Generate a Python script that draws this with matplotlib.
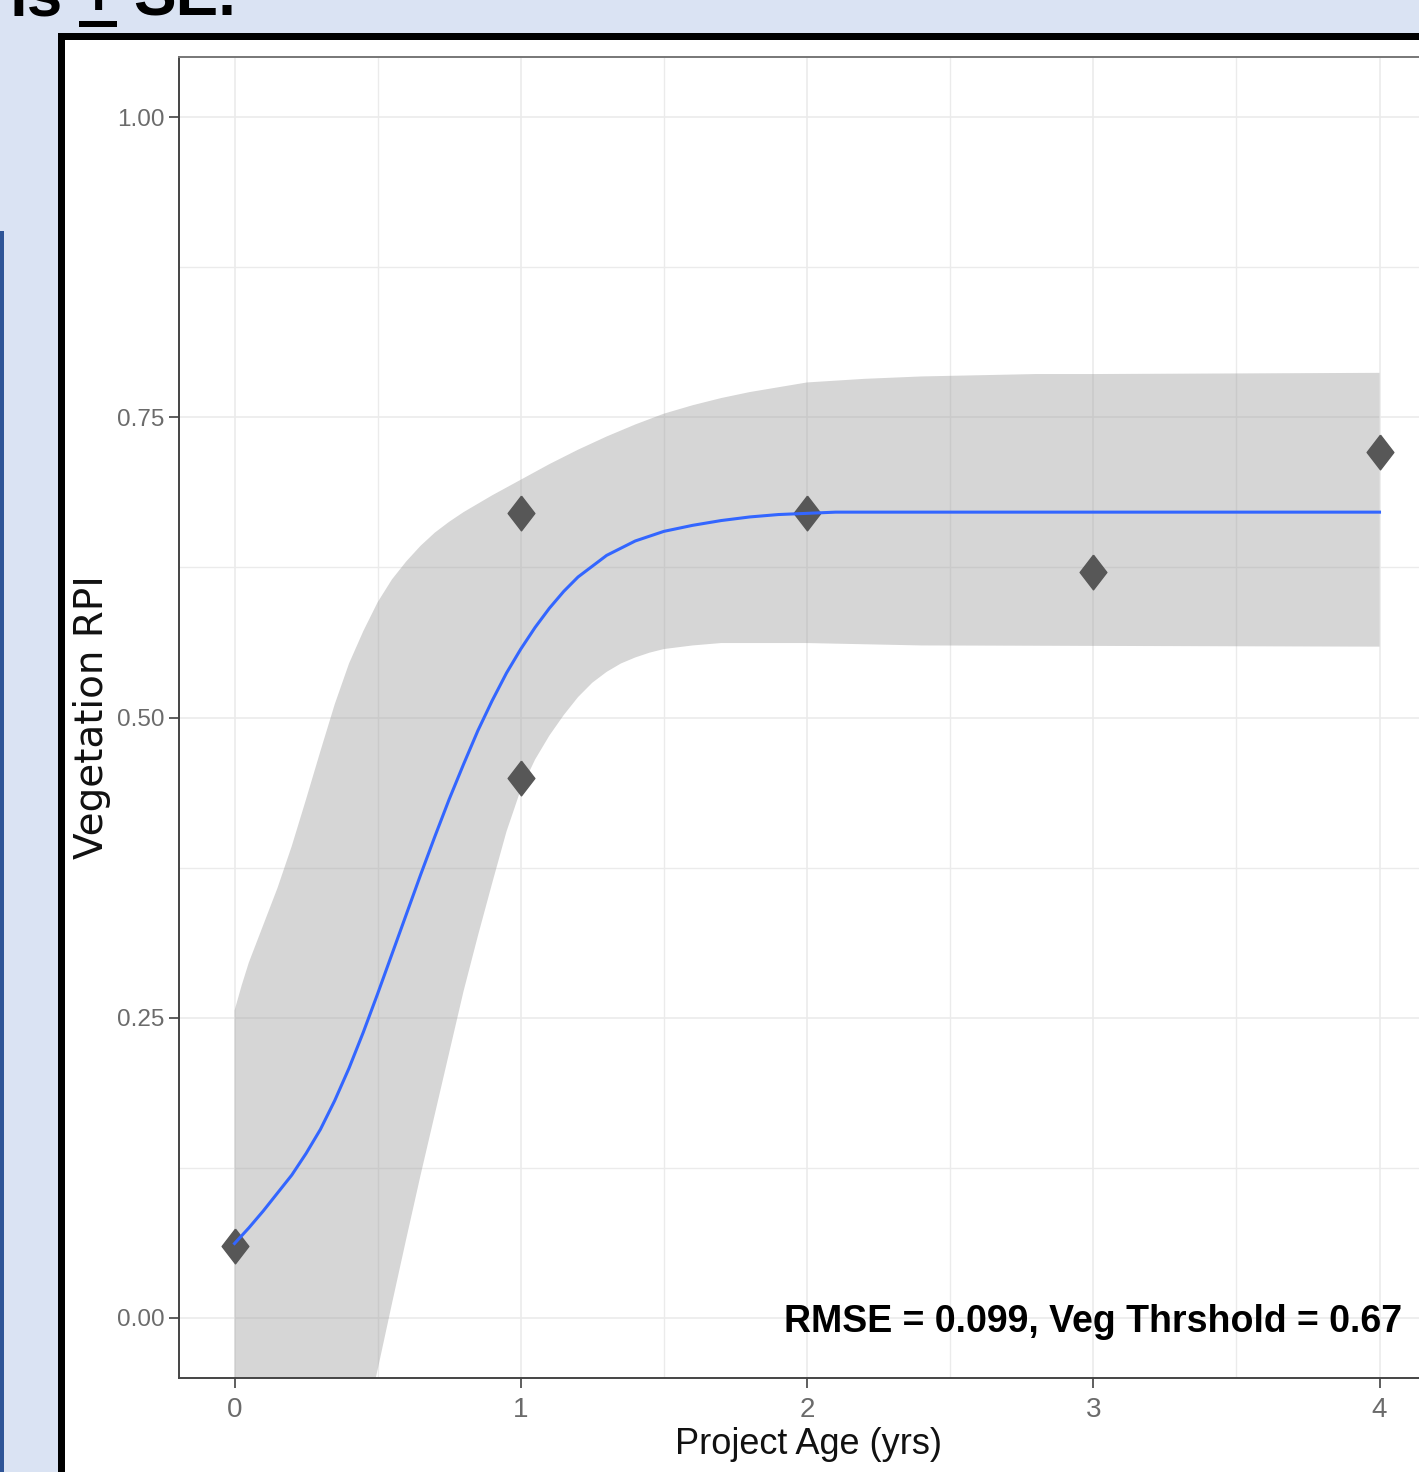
import matplotlib
matplotlib.use("Agg")
import matplotlib.pyplot as plt
from matplotlib.patches import Rectangle
from matplotlib.lines import Line2D
import numpy as np

# ---------------- data ----------------
age_pts = [0, 1, 1, 2, 3, 4]
rpi_pts = [0.060, 0.670, 0.450, 0.670, 0.621, 0.721]

fit_x = [0, 0.05, 0.1, 0.15, 0.2, 0.25, 0.3, 0.35, 0.4, 0.45, 0.5, 0.55, 0.6,
         0.65, 0.7, 0.75, 0.8, 0.85, 0.9, 0.95, 1.0, 1.05, 1.1, 1.15, 1.2, 1.3,
         1.4, 1.5, 1.6, 1.7, 1.8, 1.9, 2.0, 2.1, 2.2, 4.0]
fit_y = [0.062, 0.075, 0.089, 0.104, 0.119, 0.137, 0.157, 0.181, 0.208, 0.238,
         0.270, 0.303, 0.336, 0.369, 0.401, 0.432, 0.461, 0.489, 0.514, 0.537,
         0.557, 0.575, 0.591, 0.605, 0.617, 0.635, 0.647, 0.655, 0.660, 0.664,
         0.667, 0.669, 0.670, 0.671, 0.671, 0.671]

upper_x = [0, 0.025, 0.05, 0.1, 0.15, 0.2, 0.25, 0.3, 0.35, 0.4, 0.45, 0.5,
           0.55, 0.6, 0.65, 0.7, 0.75, 0.8, 0.9, 1.0, 1.1, 1.2, 1.3, 1.4, 1.5,
           1.6, 1.7, 1.8, 1.9, 2.0, 2.2, 2.4, 2.6, 2.8, 3.0, 4.0]
upper_y = [0.256, 0.277, 0.296, 0.327, 0.358, 0.393, 0.432, 0.472, 0.511, 0.545,
           0.572, 0.596, 0.615, 0.630, 0.643, 0.654, 0.663, 0.671, 0.685, 0.698,
           0.711, 0.723, 0.734, 0.744, 0.753, 0.760, 0.766, 0.771, 0.775, 0.779,
           0.782, 0.784, 0.785, 0.786, 0.786, 0.787]

lower_x = [0, 0.2, 0.4, 0.5, 0.55, 0.6, 0.65, 0.7, 0.75, 0.8, 0.85, 0.9, 0.95,
           1.0, 1.05, 1.1, 1.15, 1.2, 1.25, 1.3, 1.35, 1.4, 1.45, 1.5, 1.6, 1.7,
           2.0, 2.4, 4.0]
lower_y = [-0.60, -0.38, -0.15, -0.043, 0.012, 0.066, 0.119, 0.170, 0.221,
           0.272, 0.318, 0.362, 0.405, 0.440, 0.465, 0.485, 0.502, 0.517, 0.529,
           0.538, 0.545, 0.550, 0.554, 0.557, 0.560, 0.562, 0.562, 0.560, 0.559]

x_ticks = [0, 1, 2, 3, 4]
x_tick_labels = ["0", "1", "2", "3", "4"]
y_ticks = [0.00, 0.25, 0.50, 0.75, 1.00]
y_tick_labels = ["0.00", "0.25", "0.50", "0.75", "1.00"]
x_minor = [0.5, 1.5, 2.5, 3.5]
y_minor = [0.125, 0.375, 0.625, 0.875]

x_label = "Project Age (yrs)"
y_label = "Vegetation RPI"
annot_text = "RMSE = 0.099, Veg Thrshold = 0.67"

# ---------------- figure ----------------
W, H = 1419, 1472
DPI = 100
fig = plt.figure(figsize=(W / DPI, H / DPI), dpi=DPI)
fig.patch.set_facecolor("#dae3f3")


def fx(px):
    return px / W


def fy(py):
    return 1 - py / H


# slide title fragment (cut off at the top, as in the reference)
title_kw = dict(fontsize=46, fontweight="bold", color="black",
                family="Liberation Sans", va="baseline")
fig.text(fx(9), fy(15), "ls", ha="left", **title_kw)
fig.text(fx(98.5), fy(15), "+", ha="center", **title_kw)
fig.text(fx(133), fy(15), "SE.", ha="left", **title_kw)
fig.add_artist(Line2D([fx(79), fx(117)], [fy(24), fy(24)], color="black",
                      linewidth=6 * 72 / DPI, solid_capstyle="butt"))

# blue edge line on the left
fig.add_artist(Line2D([fx(1.5), fx(1.5)], [fy(233), fy(H + 5)],
                      color="#2f5597", linewidth=4 * 72 / DPI))

# black framed white box
fig.add_artist(Rectangle((fx(60.5), fy(H + 30)), fx(W + 60) - fx(60.5),
                         fy(35.5) - fy(H + 30), transform=fig.transFigure,
                         facecolor="white", edgecolor="black",
                         linewidth=7 * 72 / DPI, clip_on=False, zorder=0))

# axes placement (pixels)
ax_left, ax_right, ax_top, ax_bottom = 179, 1436.75, 57, 1378
ax = fig.add_axes([fx(ax_left), fy(ax_bottom), fx(ax_right) - fx(ax_left),
                   fy(ax_top) - fy(ax_bottom)])
ax.set_facecolor("white")
ax.set_xlim(-0.194, 4.2)
ax.set_ylim(-0.05, 1.05)

# grid
ax.set_xticks(x_ticks)
ax.set_xticklabels(x_tick_labels)
ax.set_yticks(y_ticks)
ax.set_yticklabels(y_tick_labels)
ax.set_xticks(x_minor, minor=True)
ax.set_yticks(y_minor, minor=True)
ax.grid(True, which="major", color="#ebebeb", linewidth=1.2, zorder=0)
ax.grid(True, which="minor", color="#ebebeb", linewidth=1.0, zorder=0)
ax.set_axisbelow(True)
ax.tick_params(which="minor", length=0)

# confidence ribbon
poly_x = np.concatenate([np.array(upper_x), np.array(lower_x)[::-1]])
poly_y = np.concatenate([np.array(upper_y), np.array(lower_y)[::-1]])
ax.fill(poly_x, poly_y, color="#999999", alpha=0.4, linewidth=0, zorder=2)

# points and fitted line
diamond = [(0, 1), (0.77, 0), (0, -1), (-0.77, 0), (0, 1)]
ax.plot(age_pts, rpi_pts, linestyle="none", marker=diamond, markersize=25,
        color="#575757", zorder=3)
ax.plot(fit_x, fit_y, color="#3366ff", linewidth=2.2, zorder=4,
        solid_joinstyle="round")

# annotation
ax.text(4.079, -0.0117, annot_text, ha="right", va="baseline", fontsize=27,
        fontweight="bold", color="black", family="Liberation Sans", zorder=5)

# spines & ticks
for s in ax.spines.values():
    s.set_color("#444444")
    s.set_linewidth(1.4)
ax.spines["top"].set_color("#777777")

ax.tick_params(which="major", length=7.5, width=1.1, color="#333333",
               labelcolor="#6b6b6b")
ax.tick_params(axis="x", which="major", labelsize=20, pad=6)
ax.tick_params(axis="y", which="major", labelsize=17.5, pad=3.2)
for lab in ax.get_xticklabels() + ax.get_yticklabels():
    lab.set_family("Liberation Sans")

ax.set_xlabel(x_label, fontsize=26, family="Liberation Sans", color="#111111")
ax.xaxis.set_label_coords(0.5005, -0.0369)
ax.set_ylabel(y_label, fontsize=28, family="DejaVu Sans", color="#111111")
ax.yaxis.set_label_coords(-0.0537, 0.5)

fig.savefig("out.png", dpi=DPI, facecolor=fig.get_facecolor())
